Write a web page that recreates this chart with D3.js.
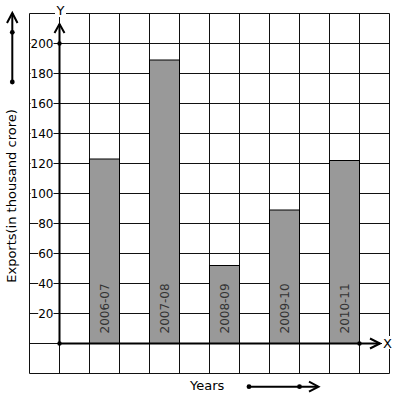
<!DOCTYPE html>
<html>
<head>
<meta charset="utf-8">
<script src="https://cdn.jsdelivr.net/npm/d3@7"></script>
<style>
  body { margin: 0; background: #fff; }
  svg { display: block; font-family: "DejaVu Sans", sans-serif; }
</style>
</head>
<body>
<svg id="svg" width="397" height="399"></svg>
<script>
// data
var years = ["2006-07", "2007-08", "2008-09", "2009-10", "2010-11"];
var exports = [123, 189, 52, 89, 122];
var tickValues = [20, 40, 60, 80, 100, 120, 140, 160, 180, 200];

var width = 397, height = 399;
var svg = d3.select("#svg");

// one grid cell = 20 units up, one slot across
var x = d3.scaleLinear().domain([-1, 11]).range([29.5, 389.5]);
var y = d3.scaleLinear().domain([-20, 220]).range([373.5, 13.5]);

// grid
var grid = svg.append("g").attr("stroke", "#111").attr("stroke-width", 1);
d3.range(-1, 12).forEach(function (k) {
  grid.append("line")
    .attr("x1", x(k)).attr("x2", x(k))
    .attr("y1", y(220)).attr("y2", y(-20));
});
d3.range(-20, 221, 20).forEach(function (v) {
  grid.append("line")
    .attr("x1", x(-1)).attr("x2", x(11))
    .attr("y1", y(v)).attr("y2", y(v));
});

// bars
var bars = svg.append("g");
years.forEach(function (yr, i) {
  var x0 = x(2 * i + 1), x1 = x(2 * i + 2);
  bars.append("rect")
    .attr("x", x0).attr("y", y(exports[i]))
    .attr("width", x1 - x0).attr("height", y(0) - y(exports[i]))
    .attr("fill", "#999")
    .attr("stroke", "#000")
    .attr("stroke-width", 1);
  bars.append("text")
    .attr("transform", "translate(" + ((x0 + x1) / 2 + 4) + "," + (y(0) - 10) + ") rotate(-90)")
    .attr("font-size", 12)
    .attr("fill", "#333")
    .text(yr);
});

// y tick labels (white box over the grid line)
var yAxis = svg.append("g")
  .attr("transform", "translate(" + x(0) + ",0)")
  .call(d3.axisLeft(y).tickValues(tickValues).tickSize(0).tickPadding(6));
yAxis.select(".domain").remove();
yAxis.selectAll("text")
  .attr("font-family", "DejaVu Sans, sans-serif")
  .attr("font-size", 12)
  .attr("fill", "#000");
yAxis.selectAll(".tick").each(function () {
  var t = d3.select(this).select("text");
  var b = t.node().getBBox();
  d3.select(this).insert("rect", "text")
    .attr("x", b.x).attr("y", b.y + 2)
    .attr("width", b.width).attr("height", b.height - 4)
    .attr("fill", "#fff");
});

// axes
var ax = svg.append("g").attr("stroke", "#000").attr("stroke-width", 2).attr("fill", "none");
ax.append("line").attr("x1", x(0)).attr("x2", x(0)).attr("y1", y(0)).attr("y2", 24);
ax.append("polyline").attr("points", [[x(0) - 5, 33], [x(0), 24], [x(0) + 5, 33]].join(" "));
ax.append("line").attr("x1", x(0)).attr("x2", 380).attr("y1", y(0)).attr("y2", y(0));
ax.append("polyline").attr("points", [[370, y(0) - 5], [380, y(0)], [370, y(0) + 5]].join(" "));

var dots = svg.append("g").attr("fill", "#000");
dots.append("circle").attr("cx", x(0)).attr("cy", y(0)).attr("r", 2.2);
dots.append("circle").attr("cx", x(0)).attr("cy", y(200)).attr("r", 2.2);
dots.append("circle").attr("cx", x(10)).attr("cy", y(0)).attr("r", 2.2);

// axis letters
svg.append("rect").attr("x", 55).attr("y", 4).attr("width", 11).attr("height", 13).attr("fill", "#fff");
svg.append("text").attr("x", x(0) + 1).attr("y", 15).attr("text-anchor", "middle")
  .attr("font-size", 13).text("Y");
svg.append("rect").attr("x", 382).attr("y", 336).attr("width", 12).attr("height", 13).attr("fill", "#fff");
svg.append("text").attr("x", 383).attr("y", 347.5).attr("font-size", 13).text("X");

// axis titles
svg.append("text")
  .attr("transform", "translate(15.5," + 196 + ") rotate(-90)")
  .attr("text-anchor", "middle")
  .attr("font-size", 13)
  .text("Exports(in thousand crore)");
svg.append("text")
  .attr("x", 190).attr("y", 390)
  .attr("font-size", 13)
  .text("Years");

// direction arrows
var dir = svg.append("g").attr("stroke", "#000").attr("stroke-width", 2).attr("fill", "none");
dir.append("line").attr("x1", 12.3).attr("x2", 12.3).attr("y1", 82).attr("y2", 13);
dir.append("polyline").attr("points", [[7, 23], [12.3, 13], [17.5, 23]].join(" "));
dir.append("line").attr("x1", 249).attr("x2", 318).attr("y1", 386.7).attr("y2", 386.7);
dir.append("polyline").attr("points", [[309, 381.7], [318.5, 386.7], [309, 391.7]].join(" "));
var dd = svg.append("g").attr("fill", "#000");
dd.append("circle").attr("cx", 12.3).attr("cy", 32.3).attr("r", 2.4);
dd.append("circle").attr("cx", 12.3).attr("cy", 82).attr("r", 2.4);
dd.append("circle").attr("cx", 249).attr("cy", 386.7).attr("r", 2.4);
dd.append("circle").attr("cx", 299.5).attr("cy", 386.7).attr("r", 2.4);
</script>
</body>
</html>
